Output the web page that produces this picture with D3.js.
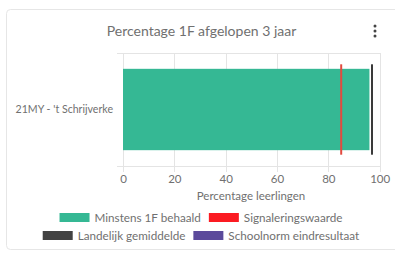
<!DOCTYPE html>
<html><head><meta charset="utf-8">
<script src="https://cdn.jsdelivr.net/npm/d3@7"></script>
<style>
html,body{margin:0;padding:0;background:#fff;}
svg{display:block;font-family:Lato, "Open Sans", sans-serif;}
</style></head>
<body><svg id="c" width="395" height="253"></svg>
<script>
const categories = ["21MY - 't Schrijverke"];
const behaald = [96];
const signalering = [85];
const landelijk = [97];
const schoolnorm = [];
const xTicks = [0, 20, 40, 60, 80, 100];
const legendRows = [
  [{label: "Minstens 1F behaald", color: "#35b894"}, {label: "Signaleringswaarde", color: "#fb1b22"}],
  [{label: "Landelijk gemiddelde", color: "#424242"}, {label: "Schoolnorm eindresultaat", color: "#5b4a9b"}]
];
const title = "Percentage 1F afgelopen 3 jaar";
const xTitle = "Percentage leerlingen";

const svg = d3.select("#c");
const grey = "#707070";

// card
svg.append("rect").attr("x", 6.5).attr("y", 9.5).attr("width", 400).attr("height", 240)
  .attr("rx", 4).attr("fill", "#fff").attr("stroke", "#e6e6e6");

// title
svg.append("text").attr("x", 201.5).attr("y", 36).attr("text-anchor", "middle")
  .attr("font-size", 14).attr("fill", grey).text(title);
// kebab
[26, 31, 36].forEach(cy => svg.append("circle").attr("cx", 375).attr("cy", cy).attr("r", 1.5).attr("fill", "#444"));

const x = d3.scaleLinear().domain([0, 100]).range([123, 379.7]);
const y = d3.scaleBand().domain(categories).range([53, 166]);
const inner = 0.72, outer = 0.8;

// grid verticals
const g = svg.append("g");
g.selectAll(".vg").data(xTicks).join("line")
  .attr("x1", d => Math.round(x(d)) + 0.5).attr("x2", d => Math.round(x(d)) + 0.5)
  .attr("y1", 53).attr("y2", 172).attr("stroke", "#e4e4e4");
[53, 166].forEach(yy => g.append("line").attr("x1", 117).attr("x2", 380)
  .attr("y1", yy + 0.5).attr("y2", yy + 0.5).attr("stroke", "#e4e4e4"));

// x axis labels
const xAxis = d3.axisBottom(x).tickValues(xTicks).tickSize(0).tickPadding(0);
const ax = svg.append("g").attr("transform", "translate(0,174.5)").call(xAxis);
ax.select(".domain").remove();
ax.selectAll("text").attr("font-size", 11.5).attr("fill", grey).attr("font-family", "Lato, sans-serif").attr("dy", "0.7em");

svg.append("text").attr("x", 251).attr("y", 200).attr("text-anchor", "middle")
  .attr("font-size", 11.5).attr("fill", grey).text(xTitle);

// y labels
const yAxis = d3.axisLeft(y).tickSize(0).tickPadding(10);
const ay = svg.append("g").attr("transform", "translate(123,0)").call(yAxis);
ay.select(".domain").remove();
ay.selectAll("text").attr("font-size", 10.6).attr("fill", grey).attr("font-family", "Lato, sans-serif");

// bars
const bw = y.bandwidth();
svg.selectAll(".bar").data(categories.map((c, i) => ({c, v: behaald[i]}))).join("rect")
  .attr("x", x(0)).attr("y", d => y(d.c) + bw * (1 - inner) / 2)
  .attr("width", d => x(d.v) - x(0)).attr("height", bw * inner)
  .attr("fill", legendRows[0][0].color);

function vline(vals, color) {
  svg.selectAll(null).data(categories.map((c, i) => ({c, v: vals[i]})).filter(d => d.v != null)).join("line")
    .attr("x1", d => x(d.v)).attr("x2", d => x(d.v))
    .attr("y1", d => y(d.c) + bw * (1 - outer) / 2).attr("y2", d => y(d.c) + bw * (1 + outer) / 2)
    .attr("stroke", color).attr("stroke-width", 2);
}
vline(signalering, "#e34a3f");
vline(landelijk, "#3a3a3a");
vline(schoolnorm, "#5b4a9b");

// legend
const rowY = [217.5, 235.5];
legendRows.forEach((row, ri) => {
  const lg = svg.append("g");
  let cx = 0;
  row.forEach((it, i) => {
    const item = lg.append("g").attr("transform", `translate(${cx},0)`);
    item.append("rect").attr("x", 0).attr("y", -4.5).attr("width", 30).attr("height", 9).attr("fill", it.color);
    const t = item.append("text").attr("x", 35).attr("y", 0).attr("dy", "0.35em")
      .attr("font-size", 11.7).attr("fill", grey).text(it.label);
    cx += 35 + t.node().getComputedTextLength() + 8;
  });
  const total = cx - 8;
  lg.attr("transform", `translate(${201 - total / 2},${rowY[ri]})`);
});
</script></body></html>
